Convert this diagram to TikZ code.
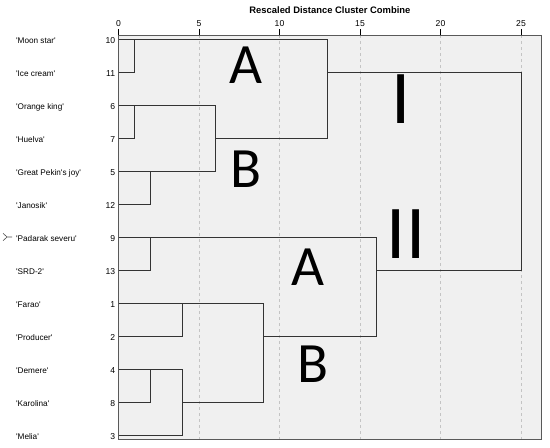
\documentclass[tikz,border=0pt]{standalone}
\usepackage{fontspec}
\setmainfont{Liberation Sans}
\newfontfamily\bigfont{Carlito}
\usetikzlibrary{positioning}
\definecolor{plotbg}{HTML}{F0F0F0}
\definecolor{gridgray}{HTML}{C4C4C4}
\definecolor{linegray}{HTML}{333333}

\begin{document}
\begin{tikzpicture}[x=16.1pt, y=-33pt,
    dend/.style={linegray, line width=0.85pt},
    leaf/.style={anchor=base west, inner sep=0pt, font=\fontsize{8.2}{8.2}\selectfont},
    caseno/.style={anchor=base east, inner sep=0pt, font=\fontsize{8.6}{8.6}\selectfont},
    ticklab/.style={inner sep=0pt, font=\fontsize{8.6}{8.6}\selectfont},
    tag/.style={inner sep=0pt, font=\bigfont\fontsize{57}{57}\selectfont},
    roman/.style={inner sep=0pt, font=\bigfont\fontsize{76}{76}\selectfont}]
    \useasboundingbox (-7.36,-1.1818) rectangle (26.80,12.364);

    % Plot area and grid
    \fill[plotbg] (0,-0.1212) rectangle (26.27,12.121);
    \foreach \d in {5,10,...,25}
        \draw[gridgray, line width=0.6pt, dash pattern=on 3pt off 3pt] (\d,-0.1212) -- (\d,12.121);
    \draw[black!65, line width=0.8pt] (0,-0.1212) rectangle (26.27,12.121);

    % Axis ticks
    \foreach \d in {0,5,...,25} {
        \draw[black, line width=1pt] (\d,-0.1212) -- (\d,-0.303) coordinate (t\d);
        \node[ticklab, above=2.6pt of t\d] (tl\d) {\d};
    }
    \node[anchor=base, font=\bfseries\fontsize{9.4}{9.4}\selectfont] (title) at (13.13,-0.779)
        {Rescaled Distance Cluster Combine};

    % Cases
    \foreach \lab/\num [count=\r from 0] in {Moon star/10, Ice cream/11, Orange king/6,
        Huelva/7, Great Pekin\textquotesingle s joy/5, Janosik/12, Padarak severu/9, SRD-2/13,
        Farao/1, Producer/2, Demere/4, Karolina/8, Melia/3} {
        \node[leaf] (name\num) at (-6.37,\r+0.136) {\textquotesingle\lab\textquotesingle};
        \node[caseno] (no\num) at (-0.2,\r+0.136) {\num};
    }
    \draw[black!70, line width=0.6pt] (-7.17,5.89) -- (-6.92,6) -- (-7.17,6.11)
        (-6.92,6) -- (-6.6,6);

    % Dendrogram
    \draw[dend] (0,0) -- (13,0);
    \draw[dend] (0,1) -- (1,1) -- (1,0);
    \draw[dend] (0,2) -- (6,2) -- (6,4) -- (0,4);
    \draw[dend] (0,3) -- (1,3) -- (1,2);
    \draw[dend] (0,5) -- (2,5) -- (2,4);
    \draw[dend] (6,3) -- (13,3) -- (13,0);
    \draw[dend] (13,1) -- (25,1) -- (25,7) -- (16,7);
    \draw[dend] (0,6) -- (16,6) -- (16,9) -- (9,9);
    \draw[dend] (0,7) -- (2,7) -- (2,6);
    \draw[dend] (0,8) -- (9,8) -- (9,11) -- (4,11);
    \draw[dend] (0,9) -- (4,9) -- (4,8);
    \draw[dend] (0,10) -- (4,10) -- (4,12) -- (0,12);
    \draw[dend] (0,11) -- (2,11) -- (2,10);

    % Cluster marks
    \node[tag] (upA) at (7.89,0.79) {A};
    \node[tag] (upB) at (7.89,3.94) {B};
    \node[tag] (lowA) at (11.74,6.91) {A};
    \node[tag] (lowB) at (12.11,9.86) {B};
    \node[roman] (one) at (17.55,1.82) {I};
    \node[roman] (two) at (17.86,5.91) {II};
\end{tikzpicture}
\end{document}
